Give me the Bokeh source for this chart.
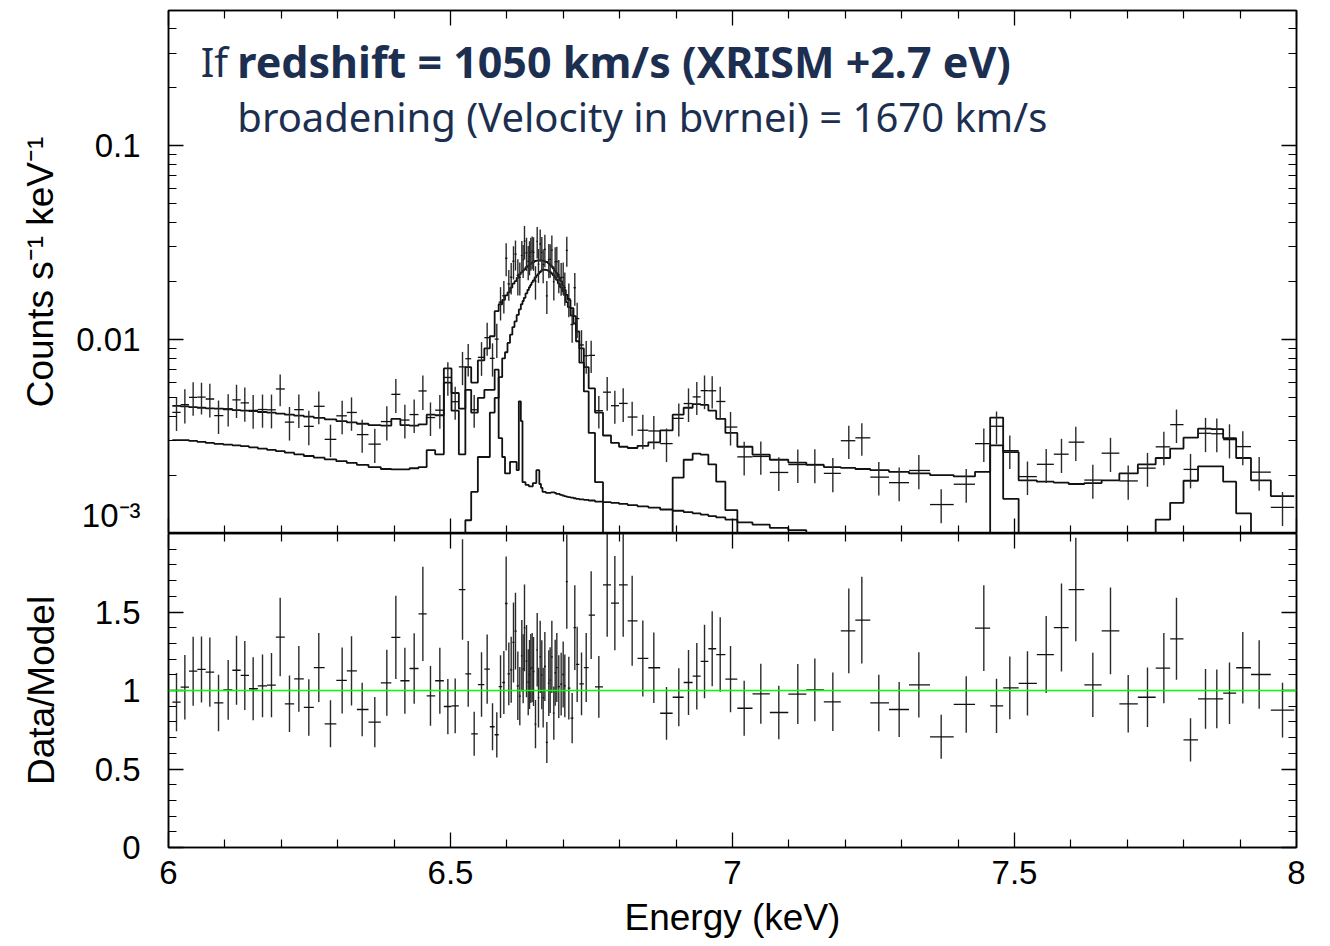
import numpy as np
from bokeh.plotting import figure
from bokeh.layouts import column
from bokeh.models import (Range1d, FixedTicker, CustomJSTickFormatter, LinearAxis,
                          LogAxis, Label, Span)
from bokeh.embed import file_html
from bokeh.resources import INLINE

# ---------------- data ----------------
# bin centre energies (keV)
energy = [
    6.0142, 6.0290, 6.0437, 6.0585, 6.0733, 6.0887, 6.1058, 6.1206, 6.1353, 6.1501,
    6.1667, 6.1826, 6.1980, 6.2145, 6.2311, 6.2488, 6.2665, 6.2872, 6.3079, 6.3245,
    6.3434, 6.3658, 6.3871, 6.4031, 6.4191, 6.4356, 6.4510, 6.4645, 6.4811, 6.4953,
    6.5083, 6.5213, 6.5314, 6.5420, 6.5550, 6.5650, 6.5745, 6.5821, 6.5887, 6.5946,
    6.5987, 6.6034, 6.6076, 6.6117, 6.6152, 6.6194, 6.6229, 6.6265, 6.6288, 6.6312,
    6.6348, 6.6378, 6.6401, 6.6424, 6.6448, 6.6472, 6.6507, 6.6537, 6.6560, 6.6590,
    6.6619, 6.6643, 6.6673, 6.6708, 6.6743, 6.6767, 6.6797, 6.6832, 6.6856, 6.6885,
    6.6920, 6.6962, 6.6998, 6.7027, 6.7062, 6.7098, 6.7157, 6.7204,
    6.7246, 6.7323, 6.7406, 6.7494, 6.7630, 6.7778,
    6.7914, 6.8062, 6.8221, 6.8410, 6.8605, 6.8830, 6.9048, 6.9220, 6.9367, 6.9504,
    6.9640, 6.9782, 6.9965, 7.0207, 7.0502, 7.0821, 7.1158, 7.1460, 7.1779, 7.2062,
    7.2293, 7.2594, 7.2955, 7.3304, 7.3700, 7.4144, 7.4456, 7.4681,
    7.4917, 7.5230, 7.5562, 7.5833, 7.6087, 7.6389, 7.6702, 7.7016, 7.7358, 7.7648,
    7.7872, 7.8121, 7.8387, 7.8587, 7.8812, 7.9048, 7.9338, 7.9752,
]

# data / model ratio and its 1-sigma error
ratio = [
    0.926, 1.021, 1.123, 1.134, 1.117, 0.921, 1.004, 1.129, 1.096, 1.011,
    1.030, 1.034, 1.340, 0.915, 1.074, 0.892, 1.146, 0.788, 1.064, 1.125,
    0.879, 0.798, 1.049, 1.338, 1.062, 1.140, 1.488, 0.966, 1.062, 0.898,
    0.902, 1.643, 1.106, 0.724, 1.038, 1.136, 0.769, 0.718, 1.025, 1.051,
    1.554, 1.106, 1.132, 1.306, 1.378, 1.030, 0.964, 1.221, 1.138, 1.399,
    1.187, 1.053, 1.102, 1.140, 1.146, 1.121, 0.786, 1.259, 0.955, 1.214,
    1.100, 0.955, 1.153, 0.669, 1.047, 1.066, 1.214, 0.856, 1.113, 1.146,
    1.025, 1.040, 1.102, 1.030, 1.694, 1.015, 0.824, 1.401,
    1.166, 1.042, 1.146, 1.480, 1.023, 1.673,
    1.556, 1.673, 1.444, 1.204, 1.145, 0.855, 0.957, 1.051, 1.091, 1.185,
    1.266, 1.229, 1.072, 0.887, 0.979, 0.860, 0.977, 1.004, 0.928, 1.380,
    1.448, 0.921, 0.879, 1.036, 0.705, 0.911, 1.397, 0.902,
    1.017, 1.045, 1.229, 1.401, 1.643, 1.036, 1.380, 0.915, 0.957, 1.142,
    1.329, 0.686, 0.947, 0.947, 0.983, 1.145, 1.102, 0.875,
]
ratio_err = [
    0.185, 0.205, 0.22, 0.21, 0.22, 0.18, 0.19, 0.22, 0.22, 0.20,
    0.20, 0.205, 0.25, 0.18, 0.21, 0.18, 0.22, 0.15, 0.21, 0.22,
    0.17, 0.16, 0.21, 0.265, 0.21, 0.225, 0.30, 0.19, 0.21, 0.176,
    0.175, 0.32, 0.21, 0.14, 0.205, 0.22, 0.15, 0.144, 0.20, 0.20,
    0.30, 0.20, 0.21, 0.255, 0.244, 0.218, 0.186, 0.228, 0.22, 0.276,
    0.23, 0.21, 0.22, 0.22, 0.22, 0.22, 0.154, 0.234, 0.19, 0.23,
    0.22, 0.19, 0.22, 0.13, 0.21, 0.21, 0.23, 0.17, 0.21, 0.22,
    0.20, 0.20, 0.21, 0.20, 0.30, 0.20, 0.16, 0.27,
    0.24, 0.20, 0.22, 0.28, 0.196, 0.33,
    0.30, 0.33, 0.287, 0.242, 0.224, 0.168, 0.185, 0.207, 0.212, 0.234,
    0.239, 0.237, 0.211, 0.175, 0.191, 0.170, 0.191, 0.20, 0.186, 0.27,
    0.276, 0.18, 0.175, 0.208, 0.14, 0.18, 0.273, 0.173,
    0.20, 0.205, 0.245, 0.28, 0.33, 0.205, 0.276, 0.183, 0.19, 0.224,
    0.261, 0.138, 0.19, 0.187, 0.196, 0.228, 0.218, 0.175,
]

# folded model per bin, in 1e-3 counts s^-1 keV^-1 (0 = below the plot)
model_total = [
    4.55, 4.52, 4.48, 4.45, 4.42, 4.40, 4.37, 4.33, 4.30, 4.27,
    4.23, 4.20, 4.15, 4.10, 4.05, 4.00, 3.95, 3.88, 3.80, 3.74,
    3.68, 3.62, 3.60, 3.90, 3.62, 3.60, 3.65, 4.10, 4.07, 7.10,
    5.30, 4.40, 7.20, 6.00, 7.80, 9.00, 10.4, 14.0, 15.2, 16.0,
    16.9, 17.5, 18.5, 19.4, 20.0, 20.8, 21.7, 22.2, 22.6, 23.0,
    23.6, 24.0, 24.3, 24.6, 24.9, 25.1, 25.4, 25.5, 25.6, 25.6,
    25.6, 25.5, 25.3, 25.1, 24.7, 24.3, 23.8, 23.2, 22.6, 22.0,
    21.0, 20.0, 19.0, 18.0, 17.0, 16.0, 14.5, 13.2,
    11.0, 9.0, 7.2, 5.6, 4.2, 3.2,
    2.93, 2.80, 2.76, 2.83, 2.95, 3.40, 4.10, 4.45, 4.64, 4.60,
    4.30, 3.90, 3.30, 2.80, 2.55, 2.40, 2.32, 2.26, 2.20, 2.18,
    2.15, 2.12, 2.08, 2.04, 2.00, 1.97, 2.08, 3.96,
    2.63, 1.88, 1.85, 1.83, 1.80, 1.82, 1.88, 2.04, 2.27, 2.45,
    2.74, 3.12, 3.47, 3.45, 3.10, 2.45, 1.88, 1.56,
]
model_line = [
    0, 0, 0, 0, 0, 0, 0, 0, 0, 0,
    0, 0, 0, 0, 0, 0, 0, 0, 0, 0,
    0, 0, 0, 0, 0, 0, 0, 0, 0, 0,
    0, 0, 1.17, 1.64, 2.48, 2.48, 4.2, 5.0, 6.4, 8.0,
    8.6, 9.6, 10.6, 11.6, 12.4, 13.4, 14.3, 15.2, 15.8, 16.4,
    17.3, 18.0, 18.6, 19.1, 19.7, 20.2, 20.9, 21.4, 21.8, 22.3,
    22.7, 22.9, 22.9, 22.8, 22.6, 22.3, 21.9, 21.4, 20.9, 20.3,
    19.5, 18.6, 17.7, 16.9, 15.6, 14.7, 13.3, 12.1,
    9.8, 7.6, 5.4, 3.3, 1.84, 0,
    0, 0, 0, 0, 0, 0, 1.94, 2.40, 2.58, 2.55,
    2.27, 1.85, 1.32, 0, 0, 0, 0, 0, 0, 0,
    0, 0, 0, 0, 0, 0, 0, 2.85,
    1.51, 0, 0, 0, 0, 0, 0, 0, 0, 1.18,
    1.44, 1.87, 2.22, 2.22, 1.85, 1.27, 0, 0,
]
model_cont = [
    3.03, 3.03, 3.00, 2.97, 2.93, 2.90, 2.87, 2.85, 2.82, 2.78,
    2.74, 2.70, 2.66, 2.61, 2.56, 2.51, 2.46, 2.41, 2.36, 2.31,
    2.26, 2.20, 2.15, 2.14, 2.14, 2.17, 2.20, 2.69, 2.56, 6.0,
    4.3, 2.56, 5.5, 4.2, 5.0, 5.5, 5.5, 7.0, 3.1, 2.48,
    2.04, 2.04, 2.34, 2.34, 2.34, 2.12, 4.8, 3.8, 1.84, 1.84,
    1.78, 1.78, 1.75, 1.75, 1.75, 1.82, 1.82, 2.12, 2.12, 1.80,
    1.72, 1.64, 1.64, 1.62, 1.62, 1.62, 1.63, 1.63, 1.62, 1.60,
    1.60, 1.58, 1.57, 1.56, 1.55, 1.54, 1.53, 1.52,
    1.51, 1.50, 1.49, 1.48, 1.46, 1.45,
    1.44, 1.42, 1.40, 1.38, 1.36, 1.33, 1.31, 1.29, 1.27, 1.25,
    1.23, 1.21, 1.18, 1.14, 1.11, 1.07, 1.04, 0, 0, 0,
    0, 0, 0, 0, 0, 0, 0, 0,
    0, 0, 0, 0, 0, 0, 0, 0, 0, 0,
    0, 0, 0, 0, 0, 0, 0, 0,
]

energy_ticks = [6, 6.5, 7, 7.5, 8]
count_ticks = [0.001, 0.01, 0.1]
ratio_ticks = [0, 0.5, 1, 1.5]

title_line1_a = "If"
title_line1_b = "redshift = 1050 km/s (XRISM +2.7 eV)"
title_line2 = "broadening (Velocity in bvrnei) = 1670 km/s"

n = len(energy)
for arr in (ratio, ratio_err, model_total, model_line, model_cont):
    assert len(arr) == n, len(arr)

# ---------------- derived geometry ----------------
E = np.array(energy)
mid = (E[1:] + E[:-1]) / 2
e_lo = np.concatenate([[E[0] - (mid[0] - E[0])], mid])
e_hi = np.concatenate([mid, [E[-1] + (E[-1] - mid[-1])]])
R = np.array(ratio)
RE = np.array(ratio_err)
M = np.array(model_total) * 1e-3
counts = R * M
counts_err = RE * M

FLOOR = 1e-7


def step_xy(vals):
    v = np.array(vals, dtype=float) * 1e-3
    v = np.where(v > 0, v, FLOOR)
    xs = np.empty(2 * n)
    ys = np.empty(2 * n)
    xs[0::2] = e_lo
    xs[1::2] = e_hi
    ys[0::2] = v
    ys[1::2] = v
    return xs, ys


FONT = "Liberation Sans"
NAVY = "#1d2f50"
INK = "#111111"
BAR = "#2a2a2a"

fmt_blank = CustomJSTickFormatter(code="return '';")
fmt_plain = CustomJSTickFormatter(code="return String(Math.round(tick*1000)/1000);")
fmt_counts = CustomJSTickFormatter(
    code="if (tick < 0.005) { return '10\u207b\u00b3'; } return String(Math.round(tick*1000)/1000);")


def style_axis(ax, labels=True, size="33px"):
    ax.major_tick_in = 15
    ax.major_tick_out = 0
    ax.minor_tick_in = 8
    ax.minor_tick_out = 0
    ax.axis_line_color = "black"
    ax.axis_line_width = 1.5
    ax.major_tick_line_color = "black"
    ax.major_tick_line_width = 1.3
    ax.minor_tick_line_color = "black"
    ax.minor_tick_line_width = 1.2
    if labels:
        ax.major_label_text_font = FONT
        ax.major_label_text_font_size = size
        ax.major_label_text_color = "black"
        ax.axis_label_text_font = FONT
        ax.axis_label_text_font_size = "37px"
        ax.axis_label_text_font_style = "normal"
        ax.axis_label_text_color = "black"
    else:
        ax.formatter = fmt_blank
        ax.major_label_text_font_size = "1px"
        ax.major_label_standoff = 0


minor_energy = [6 + 0.1 * k for k in range(1, 20) if k % 5 != 0]
minor_counts = [m * d for d in count_ticks for m in range(2, 10) if m * d < 0.5]
minor_ratio = [0.1 * k for k in range(1, 20) if k % 5 != 0]

# ---------------- top panel ----------------
top = figure(frame_width=1128, frame_height=523,
             x_range=Range1d(6, 8), y_range=Range1d(1e-3, 0.497),
             y_axis_type="log", output_backend="svg", toolbar_location=None,
             min_border_left=168, min_border_right=20, min_border_top=10,
             min_border_bottom=0)
top.xgrid.visible = False
top.ygrid.visible = False
top.outline_line_color = "black"
top.outline_line_width = 1.5
top.background_fill_color = "white"
top.border_fill_color = "white"

top.xaxis.ticker = FixedTicker(ticks=energy_ticks, minor_ticks=minor_energy)
style_axis(top.xaxis[0], labels=False)
top.yaxis.ticker = FixedTicker(ticks=count_ticks, minor_ticks=minor_counts)
top.yaxis.formatter = fmt_counts
top.yaxis.axis_label = "Counts s\u207b\u00b9 keV\u207b\u00b9"
style_axis(top.yaxis[0])
top.yaxis.major_label_standoff = 28
top.yaxis.axis_label_standoff = 12

ax_r = LogAxis(ticker=FixedTicker(ticks=count_ticks, minor_ticks=minor_counts))
style_axis(ax_r, labels=False)
top.add_layout(ax_r, "right")
ax_t = LinearAxis(ticker=FixedTicker(ticks=energy_ticks, minor_ticks=minor_energy))
style_axis(ax_t, labels=False)
top.add_layout(ax_t, "above")

for comp in (model_cont, model_line, model_total):
    xs, ys = step_xy(comp)
    top.line(xs, ys, line_color=INK, line_width=1.8)

top.segment(x0=E, y0=counts - counts_err, x1=E, y1=counts + counts_err,
            line_color=BAR, line_width=1.4)
top.segment(x0=e_lo, y0=counts, x1=e_hi, y1=counts, line_color=INK, line_width=1.3)

top.add_layout(Label(x=6.057, y=0.270, text=title_line1_a, text_font="Noto Sans",
                     text_font_size="40px", text_color=NAVY, text_baseline="alphabetic"))
top.add_layout(Label(x=6.122, y=0.270, text=title_line1_b, text_font="Noto Sans",
                     text_font_size="43px", text_font_style="bold", text_color=NAVY,
                     text_baseline="alphabetic"))
top.add_layout(Label(x=6.122, y=0.1405, text=title_line2, text_font="Noto Sans",
                     text_font_size="40px", text_color=NAVY, text_baseline="alphabetic"))

# ---------------- bottom panel ----------------
bot = figure(frame_width=1128, frame_height=314,
             x_range=top.x_range, y_range=Range1d(0, 2.0),
             output_backend="svg", toolbar_location=None,
             min_border_left=168, min_border_right=20, min_border_top=0,
             min_border_bottom=90)
bot.xgrid.visible = False
bot.ygrid.visible = False
bot.outline_line_color = "black"
bot.outline_line_width = 1.5
bot.background_fill_color = "white"
bot.border_fill_color = "white"

bot.xaxis.ticker = FixedTicker(ticks=energy_ticks, minor_ticks=minor_energy)
bot.xaxis.formatter = fmt_plain
bot.xaxis.axis_label = "Energy (keV)"
style_axis(bot.xaxis[0])
bot.xaxis.major_label_standoff = 13
bot.xaxis.axis_label_standoff = 10

bot.yaxis.ticker = FixedTicker(ticks=ratio_ticks, minor_ticks=minor_ratio)
bot.yaxis.formatter = fmt_plain
bot.yaxis.axis_label = "Data/Model"
style_axis(bot.yaxis[0])
bot.yaxis.major_label_standoff = 28
bot.yaxis.axis_label_standoff = 30

bx_r = LinearAxis(ticker=FixedTicker(ticks=ratio_ticks, minor_ticks=minor_ratio))
style_axis(bx_r, labels=False)
bot.add_layout(bx_r, "right")
bx_t = LinearAxis(ticker=FixedTicker(ticks=energy_ticks, minor_ticks=minor_energy))
style_axis(bx_t, labels=False)
bot.add_layout(bx_t, "above")

bot.segment(x0=E, y0=R - RE, x1=E, y1=R + RE, line_color=BAR, line_width=1.4)
bot.segment(x0=e_lo, y0=R, x1=e_hi, y1=R, line_color=INK, line_width=1.3)
bot.add_layout(Span(location=1.0, dimension="width", line_color="#00ff00", line_width=1.3))

layout = column(top, bot, spacing=0)
open("out.html", "w").write(file_html(layout, INLINE))
